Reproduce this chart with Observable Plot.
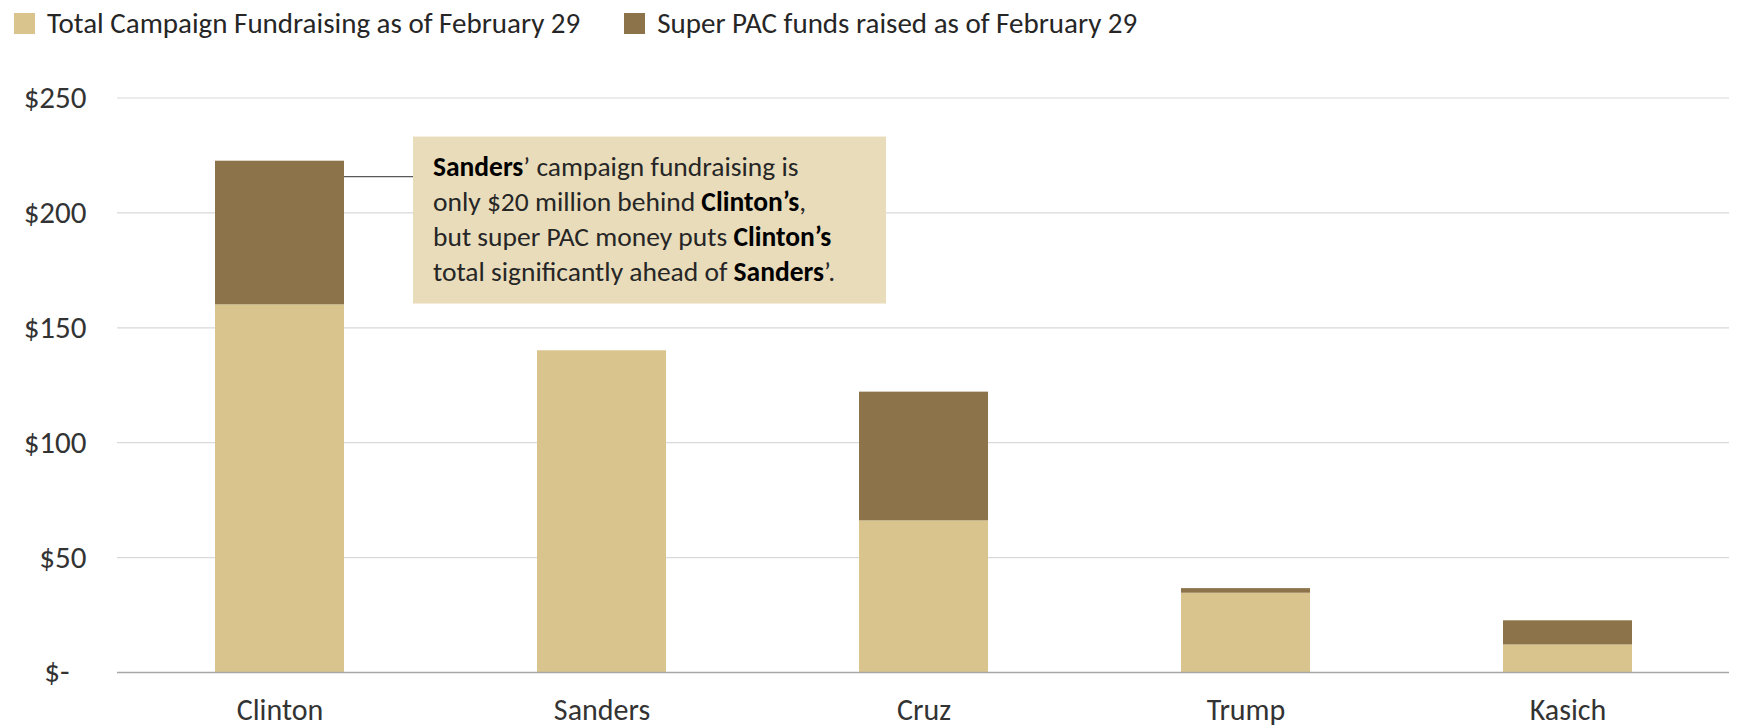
<!DOCTYPE html>
<html>
<head>
<meta charset="utf-8">
<script src="https://cdn.jsdelivr.net/npm/d3@7"></script>
<script src="https://cdn.jsdelivr.net/npm/@observablehq/plot@0.6"></script>
<style>
  html, body { margin: 0; padding: 0; background: #fff; }
  body { font-family: Carlito, Lato, sans-serif; width: 1738px; }
  #legend { height: 50px; display: flex; align-items: flex-start; padding-left: 14px; box-sizing: border-box; }
  .item { display: flex; align-items: center; margin-right: 44px; margin-top: 10px; }
  .sw { width: 21px; height: 21px; margin-right: 12px; }
  .lab { font-size: 29px; color: #262626; line-height: 26px; }
  svg { display: block; }
</style>
</head>
<body>
<div id="legend"></div>
<div id="chart"></div>
<script>
// ---- data ----
const candidates = ["Clinton", "Sanders", "Cruz", "Trump", "Kasich"];
const seriesNames = ["Total Campaign Fundraising as of February 29", "Super PAC funds raised as of February 29"];
const campaignFunds = [160, 140, 66, 34.5, 12];
const superPacFunds = [62.5, 0, 56, 2, 10.5];
const yTicks = [50, 100, 150, 200, 250];
const seriesColors = ["#D8C48C", "#8C7349"];
const annotationAnchor = {candidate: "Clinton", value: 215.6};
const annotationLines = [
  [["Sanders", true], ["\u2019 campaign fundraising is", false]],
  [["only $20 million behind ", false], ["Clinton\u2019s", true], [",", false]],
  [["but super PAC money puts ", false], ["Clinton\u2019s", true]],
  [["total significantly ahead of ", false], ["Sanders", true], ["\u2019.", false]]
];

const rows = [];
candidates.forEach((c, i) => {
  rows.push({candidate: c, series: seriesNames[0], value: campaignFunds[i]});
  rows.push({candidate: c, series: seriesNames[1], value: superPacFunds[i]});
});

// ---- legend ----
const legend = d3.select("#legend");
seriesNames.forEach((s, i) => {
  const it = legend.append("div").attr("class", "item");
  it.append("div").attr("class", "sw").style("background", seriesColors[i]);
  it.append("div").attr("class", "lab").text(s);
});

// ---- chart ----
const FONT = "Carlito, Lato, sans-serif";
const plot = Plot.plot({
  width: 1738,
  height: 678,
  marginLeft: 117,
  marginRight: 9,
  marginTop: 47.5,
  marginBottom: 56,
  style: {fontFamily: FONT, fontSize: "30px", color: "#333", background: "#fff", overflow: "visible"},
  x: {domain: candidates, paddingInner: 0.6, paddingOuter: 0.3, label: null},
  y: {domain: [0, 250], label: null},
  color: {domain: seriesNames, range: seriesColors},
  marks: [
    Plot.gridY(yTicks, {stroke: "#D9D9D9", strokeOpacity: 1, strokeWidth: 1.2}),
    Plot.barY(rows, {x: "candidate", y: "value", fill: "series"}),
    Plot.ruleY([0], {stroke: "#A6A6A6", strokeWidth: 1.5}),
    Plot.axisY(yTicks, {tickSize: 0, tickPadding: 31, tickFormat: d => "$" + d, fill: "#333", fontSize: 31, label: null}),
    Plot.axisY([0], {tickSize: 0, tickPadding: 48, tickFormat: () => "$-", fill: "#333", fontSize: 31, label: null}),
    Plot.axisX({tickSize: 0, tickPadding: 26, fill: "#333", fontSize: 30, label: null})
  ]
});
document.getElementById("chart").appendChild(plot);

// ---- annotation (positioned through the plot's own scales) ----
const xs = plot.scale("x"), ys = plot.scale("y");
const barRight = xs.apply(annotationAnchor.candidate) + xs.bandwidth;
const yAnchor = ys.apply(annotationAnchor.value);
const boxLeft = barRight + 69;
const boxTop = yAnchor - 40;
const g = d3.select(plot).append("g");
g.append("line")
  .attr("x1", barRight).attr("x2", boxLeft)
  .attr("y1", yAnchor).attr("y2", yAnchor)
  .attr("stroke", "#595959").attr("stroke-width", 1.3);
g.append("rect")
  .attr("x", boxLeft).attr("y", boxTop)
  .attr("width", 473).attr("height", 167)
  .attr("fill", "#E8DCBB");
const txt = g.append("text")
  .attr("text-anchor", "start")
  .attr("font-family", FONT).attr("font-size", 27.5).attr("fill", "#262626");
annotationLines.forEach((line, li) => {
  line.forEach(([s, bold], si) => {
    const t = txt.append("tspan").text(s)
      .attr("font-weight", bold ? 700 : 400)
      .attr("fill", bold ? "#000" : "#262626");
    if (si === 0) t.attr("x", boxLeft + 20).attr("y", boxTop + 39 + li * 35);
  });
});
</script>
</body>
</html>
